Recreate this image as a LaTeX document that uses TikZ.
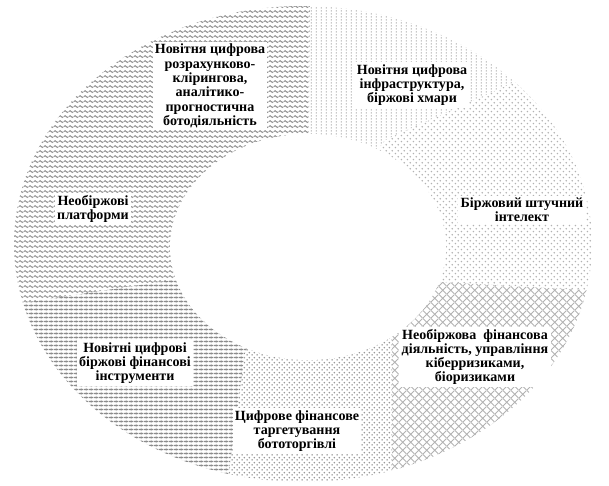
\documentclass[tikz,border=0pt]{standalone}
\usepackage{fontspec}
\setmainfont{Liberation Serif}
\usetikzlibrary{patterns}

% fill textures of the ring parts
\pgfdeclarepatternformonly{ringwavy}{\pgfpoint{0pt}{0pt}}{\pgfpoint{4pt}{4.6pt}}{\pgfpoint{4pt}{4.6pt}}{%
  \pgfsetlinewidth{0.85pt}%
  \pgfpathmoveto{\pgfpoint{0pt}{2.3pt}}%
  \pgfpathcurveto{\pgfpoint{1pt}{3.5pt}}{\pgfpoint{1pt}{3.5pt}}{\pgfpoint{2pt}{2.3pt}}%
  \pgfpathcurveto{\pgfpoint{3pt}{1.1pt}}{\pgfpoint{3pt}{1.1pt}}{\pgfpoint{4pt}{2.3pt}}%
  \pgfusepath{stroke}}
\pgfdeclarepatternformonly{ringvdash}{\pgfpoint{0pt}{0pt}}{\pgfpoint{4pt}{2.6pt}}{\pgfpoint{4pt}{2.6pt}}{%
  \pgfsetlinewidth{0.8pt}%
  \pgfpathmoveto{\pgfpoint{2pt}{0.5pt}}\pgfpathlineto{\pgfpoint{2pt}{2.1pt}}%
  \pgfusepath{stroke}}
\pgfdeclarepatternformonly{ringsparsedots}{\pgfpoint{0pt}{0pt}}{\pgfpoint{5pt}{5pt}}{\pgfpoint{5pt}{5pt}}{%
  \pgfpathcircle{\pgfpoint{1.25pt}{1.25pt}}{0.75pt}%
  \pgfpathcircle{\pgfpoint{3.75pt}{3.75pt}}{0.75pt}%
  \pgfusepath{fill}}
\pgfdeclarepatternformonly{ringdensedots}{\pgfpoint{0pt}{0pt}}{\pgfpoint{4.4pt}{4.4pt}}{\pgfpoint{4.4pt}{4.4pt}}{%
  \pgfpathcircle{\pgfpoint{1.1pt}{1.1pt}}{0.85pt}%
  \pgfpathcircle{\pgfpoint{3.3pt}{3.3pt}}{0.85pt}%
  \pgfusepath{fill}}
\pgfdeclarepatternformonly{ringxcross}{\pgfpoint{0pt}{0pt}}{\pgfpoint{7pt}{7pt}}{\pgfpoint{7pt}{7pt}}{%
  \pgfsetlinewidth{0.7pt}%
  \pgfpathmoveto{\pgfpoint{0pt}{0pt}}\pgfpathlineto{\pgfpoint{7pt}{7pt}}%
  \pgfpathmoveto{\pgfpoint{0pt}{7pt}}\pgfpathlineto{\pgfpoint{7pt}{0pt}}%
  \pgfusepath{stroke}}
\pgfdeclarepatternformonly{ringbricks}{\pgfpoint{0pt}{0pt}}{\pgfpoint{4pt}{3pt}}{\pgfpoint{4pt}{3pt}}{%
  \pgfsetlinewidth{1.1pt}%
  \pgfpathmoveto{\pgfpoint{0pt}{1.5pt}}\pgfpathlineto{\pgfpoint{4pt}{1.5pt}}%
  \pgfusepath{stroke}%
  \pgfsetlinewidth{0.4pt}%
  \pgfpathmoveto{\pgfpoint{2pt}{0pt}}\pgfpathlineto{\pgfpoint{2pt}{3pt}}%
  \pgfusepath{stroke}}

\tikzset{
  lbl/.style={fill=white,inner sep=2pt,align=center,font=\bfseries\fontsize{12}{12.2}\selectfont},
  segG/.style={pattern=ringwavy,pattern color=gray!90},
  segA/.style={pattern=ringvdash,pattern color=gray!65},
  segB/.style={pattern=ringsparsedots,pattern color=gray!60},
  segC/.style={pattern=ringxcross,pattern color=gray!60},
  segD/.style={pattern=ringdensedots,pattern color=gray!80},
  segE/.style={pattern=ringbricks,pattern color=gray!90},
  segF/.style={pattern=ringwavy,pattern color=gray!85},
}

\begin{document}
\begin{tikzpicture}[x=0.03cm,y=-0.03cm]
  \useasboundingbox (0,0) rectangle (609,486);
  \coordinate (c) at (308,247);
  \begin{scope}
    \clip (303,244) ellipse [x radius=289, y radius=238];
    \fill[segG] (c) -- (178,190) -- (-10,180) -- (-10,-20) -- (310,-20) -- cycle;
    \fill[segA] (c) -- (310,-20) -- (620,-20) -- (620,35) -- (385,140) -- cycle;
    \fill[segB] (c) -- (385,140) -- (620,35) -- (620,292) -- (440,282) -- cycle;
    \fill[segC] (c) -- (440,282) -- (620,292) -- (620,500) -- (392,500) -- (392,340) -- cycle;
    \fill[segD] (c) -- (392,340) -- (392,500) -- (225,500) -- (245,352) -- cycle;
    \fill[segE] (c) -- (245,352) -- (225,500) -- (-10,500) -- (-10,308) -- (172,280) -- cycle;
    \fill[segF] (c) -- (172,280) -- (-10,308) -- (-10,180) -- (178,190) -- cycle;
  \end{scope}
  \fill[white] (308,247) ellipse [x radius=138, y radius=113];

  \node[lbl] (lG) at (210,86) {Новітня цифрова\\розрахунково-\\клірингова,\\аналітико-\\прогностична\\ботодіяльність};
  \node[lbl] (lA) at (412,85) {Новітня цифрова\\інфраструктура,\\біржові хмари};
  \node[lbl] (lB) at (522,210) {Біржовий штучний\\інтелект};
  \node[lbl] (lC) at (475,357) {Необіржова\ \ фінансова\\діяльність, управління\\кіберризиками,\\біоризиками};
  \node[lbl] (lD) at (297,431) {Цифрове фінансове\\таргетування\\бототоргівлі};
  \node[lbl] (lE) at (135,363) {Новітні цифрові\\біржові фінансові\\інструменти};
  \node[lbl] (lF) at (93,209) {Необіржові\\платформи};
\end{tikzpicture}
\end{document}
